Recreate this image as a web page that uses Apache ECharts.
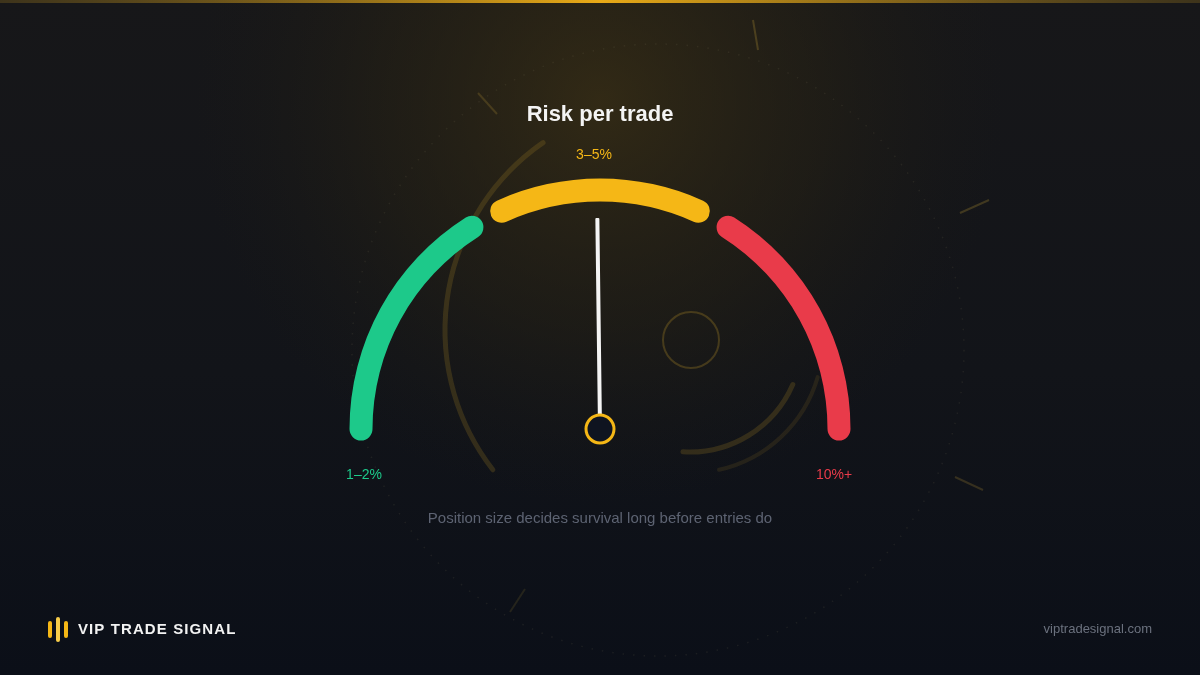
<!DOCTYPE html>
<html>
<head>
<meta charset="utf-8">
<script src="https://cdn.jsdelivr.net/npm/echarts@6/dist/echarts.min.js"></script>
<style>
  html, body { margin: 0; padding: 0; background: #0d1118; }
  #chart { width: 1200px; height: 675px; }
</style>
</head>
<body>
<div id="chart"></div>
<script>
// gauge data (scale 0..100 mapped onto a half circle)
const segmentNames = ['1–2%', '3–5%', '10%+']
const segmentStart = [0, 36.5, 68]
const segmentEnd = [32, 63.5, 100]
const segmentColors = ['#1dc98a', '#f5b716', '#e93b4a']
const labelOffsets = [[-236, 46], [-6, -274], [234, 46]]
const needleValue = [49.6]

const FONT = '"Liberation Sans", Arial, "Helvetica Neue", sans-serif'
const CX = 600
const CY = 429
const R = 239
const W = 23

const toAngle = (v) => 180 - v * 1.8

const segmentSeries = segmentNames.map((name, i) => ({
	type: 'gauge',
	center: [CX, CY],
	radius: R + W / 2,
	startAngle: toAngle(segmentStart[i]),
	endAngle: toAngle(segmentEnd[i]),
	min: segmentStart[i],
	max: segmentEnd[i],
	z: 3,
	axisLine: {
		roundCap: true,
		lineStyle: { width: W, color: [[1, segmentColors[i]]] }
	},
	axisTick: { show: false },
	splitLine: { show: false },
	axisLabel: { show: false },
	pointer: { show: false },
	anchor: { show: false },
	detail: { show: false },
	title: {
		show: true,
		offsetCenter: labelOffsets[i],
		color: segmentColors[i],
		fontSize: 14,
		fontFamily: FONT
	},
	data: [{ value: segmentStart[i], name: name }]
}))

const needleSeries = {
	type: 'gauge',
	center: [CX, CY],
	radius: R,
	startAngle: 180,
	endAngle: 0,
	min: 0,
	max: 100,
	z: 5,
	axisLine: { show: false },
	axisTick: { show: false },
	splitLine: { show: false },
	axisLabel: { show: false },
	pointer: {
		show: true,
		icon: 'roundRect',
		length: 211,
		width: 4,
		offsetCenter: [0, 0],
		itemStyle: { color: '#f4f4f4' }
	},
	anchor: {
		show: true,
		showAbove: true,
		size: 28,
		itemStyle: { color: '#0f1420', borderColor: '#f5b716', borderWidth: 3 }
	},
	title: { show: false },
	detail: { show: false },
	data: [{ value: needleValue[0] }]
}

// spaced brand text, one glyph at a time
const brandText = 'VIP TRADE SIGNAL'
const brandFont = 'bold 15px ' + FONT
const measure = document.createElement('canvas').getContext('2d')
measure.font = brandFont
const brandChars = []
let bx = 0
for (const ch of brandText) {
	brandChars.push({ type: 'text', x: bx, y: 0, style: { text: ch, fill: '#f2f2f2', font: brandFont } })
	bx += measure.measureText(ch).width + 1.1
}

// faint decoration
const deco = 'rgba(150,120,35,0.26)'
const decoFaint = 'rgba(150,120,35,0.16)'
const tick = (x1, y1, x2, y2, op) => ({
	type: 'line', silent: true, z: -5,
	shape: { x1, y1, x2, y2 },
	style: { stroke: 'rgba(170,140,50,' + op + ')', lineWidth: 2 }
})

const graphics = [
	{
		type: 'rect', silent: true, z: -20,
		shape: { x: 0, y: 0, width: 1200, height: 675 },
		style: {
			fill: new echarts.graphic.LinearGradient(0, 0, 0, 1, [
				{ offset: 0, color: '#171719' },
				{ offset: 0.55, color: '#121419' },
				{ offset: 1, color: '#0b0f18' }
			])
		}
	},
	{
		type: 'rect', silent: true, z: -19,
		shape: { x: 0, y: 0, width: 1200, height: 675 },
		style: {
			fill: new echarts.graphic.RadialGradient(0.5, 0.15, 0.6, [
				{ offset: 0, color: 'rgba(62,50,20,0.7)' },
				{ offset: 0.55, color: 'rgba(48,40,18,0.35)' },
				{ offset: 1, color: 'rgba(30,28,20,0)' }
			])
		}
	},
	{
		type: 'rect', silent: true, z: 10,
		shape: { x: 0, y: 0, width: 1200, height: 3 },
		style: {
			fill: new echarts.graphic.LinearGradient(0, 0, 1, 0, [
				{ offset: 0, color: 'rgba(120,95,30,0.4)' },
				{ offset: 0.5, color: '#e9aa17' },
				{ offset: 1, color: 'rgba(120,95,30,0.4)' }
			])
		}
	},
	// dotted ring
	{
		type: 'circle', silent: true, z: -6,
		shape: { cx: 658, cy: 350, r: 306 },
		style: { fill: 'none', stroke: 'rgba(140,130,100,0.13)', lineWidth: 1.5, lineDash: [1.5, 9] }
	},
	// big arc on the left
	{
		type: 'arc', silent: true, z: -5,
		shape: { cx: 673, cy: 330, r: 228, startAngle: Math.PI * 0.79, endAngle: Math.PI * 1.307 },
		style: { fill: 'none', stroke: deco, lineWidth: 5, lineCap: 'round' }
	},
	// small circle and inner arcs
	{
		type: 'circle', silent: true, z: -5,
		shape: { cx: 691, cy: 340, r: 28 },
		style: { fill: 'none', stroke: 'rgba(150,120,35,0.36)', lineWidth: 2 }
	},
	{
		type: 'arc', silent: true, z: -5,
		shape: { cx: 690, cy: 340, r: 112, startAngle: Math.PI * 0.13, endAngle: Math.PI * 0.52 },
		style: { fill: 'none', stroke: deco, lineWidth: 5, lineCap: 'round' }
	},
	{
		type: 'arc', silent: true, z: -5,
		shape: { cx: 690, cy: 340, r: 133, startAngle: Math.PI * 0.09, endAngle: Math.PI * 0.43 },
		style: { fill: 'none', stroke: decoFaint, lineWidth: 4, lineCap: 'round' }
	},
	tick(753, 20, 758, 50, 0.3),
	tick(478, 93, 497, 114, 0.25),
	tick(960, 213, 989, 200, 0.3),
	tick(955, 477, 983, 490, 0.25),
	tick(510, 612, 525, 589, 0.16),
	// logo
	{
		type: 'group', left: 48, top: 617,
		children: [
			{ type: 'rect', shape: { x: 0, y: 4, width: 4, height: 17, r: 2 }, style: { fill: '#f5b716' } },
			{ type: 'rect', shape: { x: 8, y: 0, width: 4, height: 25, r: 2 }, style: { fill: '#f7cc4a' } },
			{ type: 'rect', shape: { x: 16, y: 4, width: 4, height: 17, r: 2 }, style: { fill: '#f5b716' } }
		]
	},
	{
		type: 'group', left: 78, top: 622,
		children: brandChars
	},
	{
		type: 'text', right: 48, top: 623,
		style: { text: 'viptradesignal.com', fill: '#6b717e', font: '13px ' + FONT }
	}
]

const chart = echarts.init(document.getElementById('chart'))
const option = {
	backgroundColor: '#0d1118',
	animation: false,
	title: [
		{
			text: 'Risk per trade',
			left: 'center',
			top: 99,
			textStyle: { color: '#f4f4f4', fontSize: 22, fontWeight: 'bold', fontFamily: FONT }
		},
		{
			text: 'Position size decides survival long before entries do',
			left: 'center',
			top: 506,
			textStyle: { color: '#5d6372', fontSize: 15, fontWeight: 'normal', fontFamily: FONT }
		}
	],
	graphic: graphics,
	series: segmentSeries.concat([needleSeries])
}
chart.setOption(option)
</script>
</body>
</html>
